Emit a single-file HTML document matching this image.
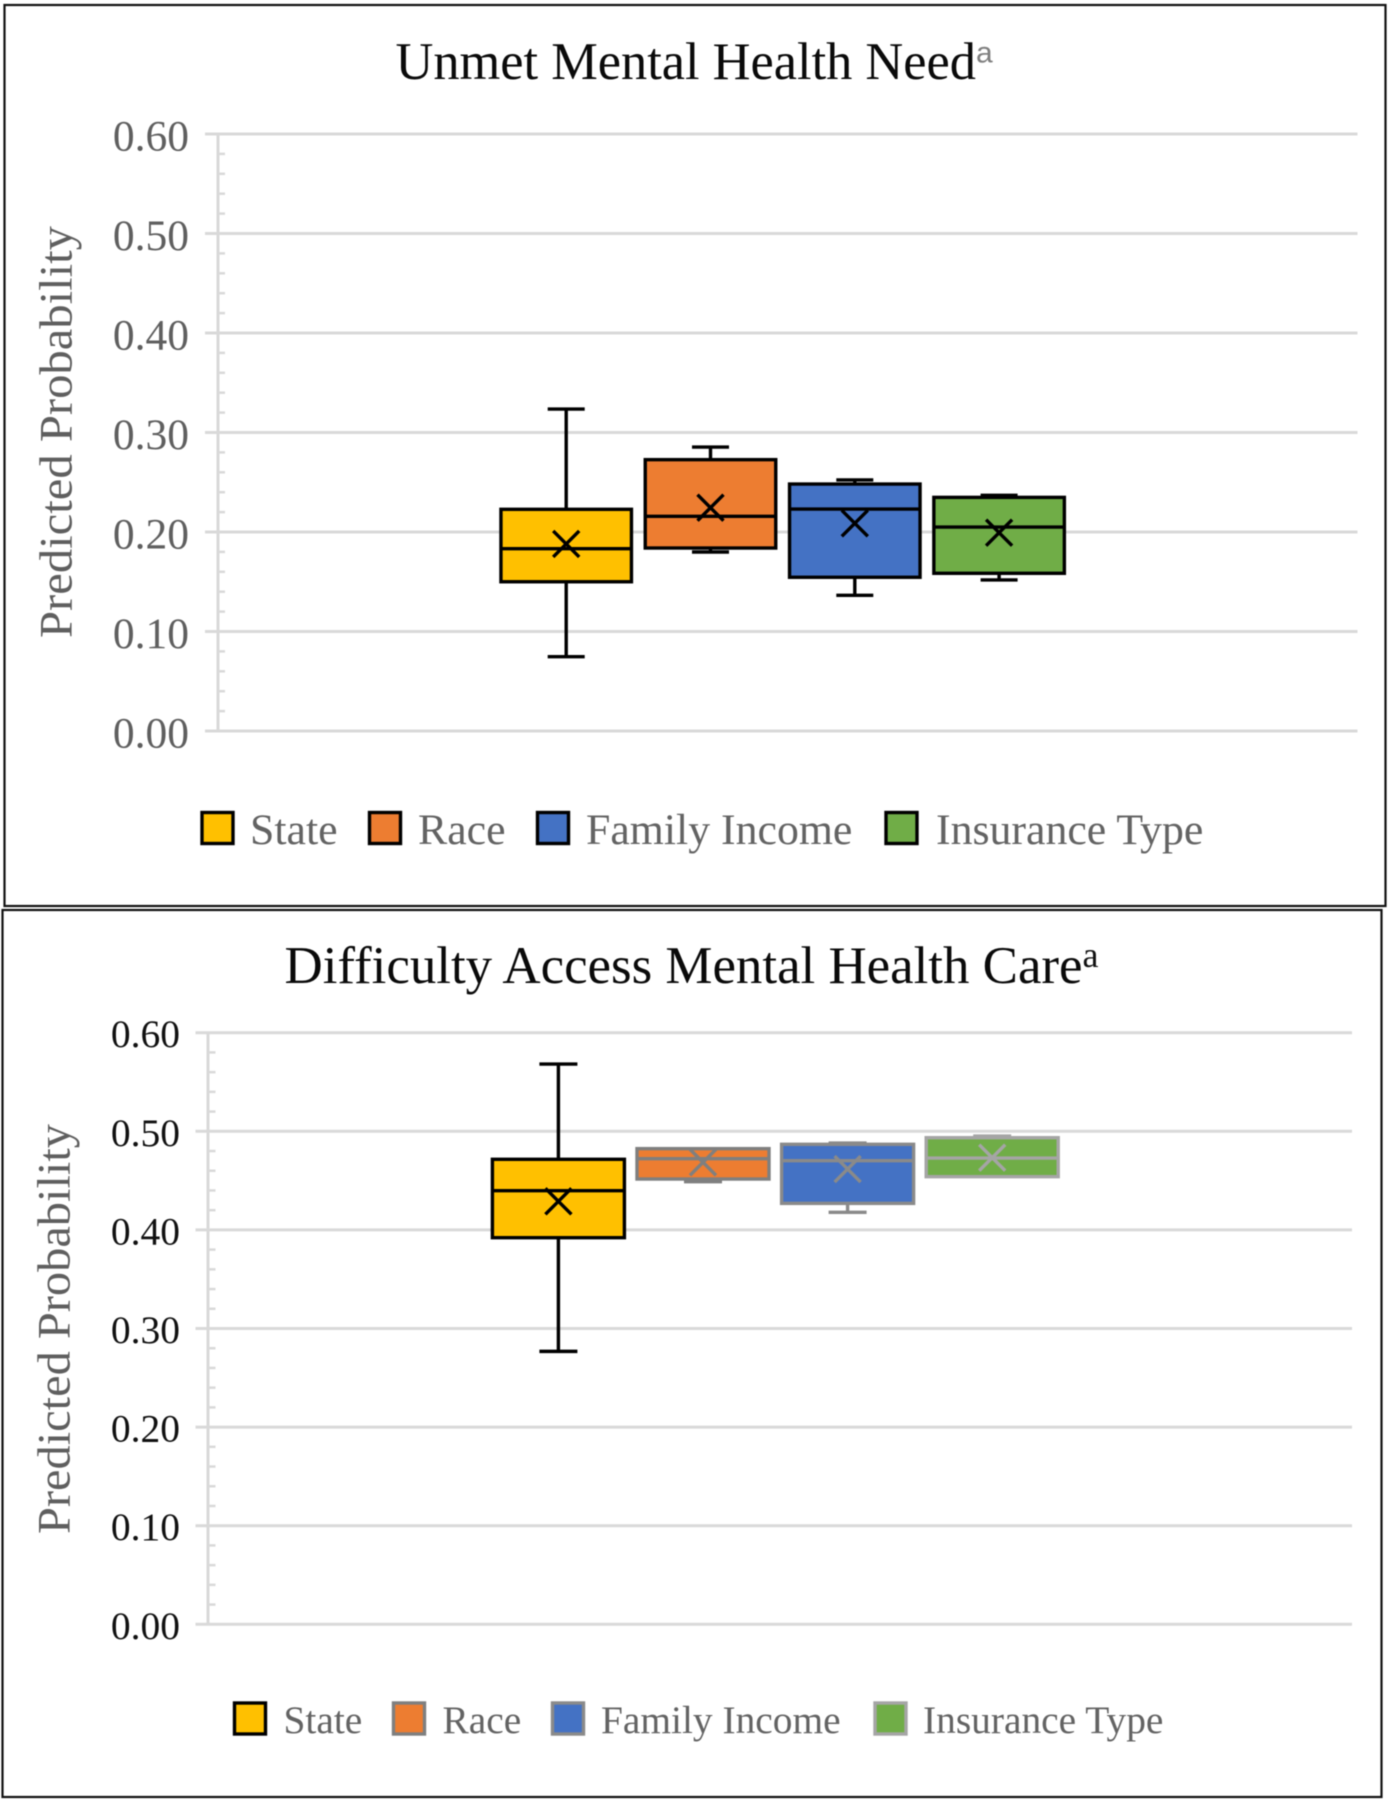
<!DOCTYPE html>
<html lang="en">
<head>
<meta charset="utf-8">
<title>Predicted probability box plots</title>
<style>
html,body{margin:0;padding:0;background:#fff;width:1391px;height:1800px;overflow:hidden}
svg{display:block;filter:blur(.6px)}
text{font-family:"Liberation Serif",serif}
</style>
</head>
<body>
<svg id="figure" width="1391" height="1800" viewBox="0 0 1391 1800" xmlns="http://www.w3.org/2000/svg">
  <rect width="1391" height="1800" fill="#fff"/>
  <g id="chart-a">
    <rect x="4.5" y="5" width="1381" height="901" fill="#fff" stroke="#111" stroke-width="2.2"/>
    <text x="395.5" y="79" font-size="52.4" fill="#0a0a0a">Unmet Mental Health Need<tspan font-size="30" dy="-16.3" fill="#7f7f7f" style="font-family:'Liberation Sans',sans-serif">a</tspan></text>
    <text transform="translate(71.5,638) rotate(-90)" font-size="47" fill="#5f5f5f" textLength="412" lengthAdjust="spacingAndGlyphs">Predicted Probability</text>
  </g>
  <g id="chart-b">
    <rect x="2.5" y="910" width="1379" height="887" fill="#fff" stroke="#111" stroke-width="2.2"/>
    <text x="284.5" y="983" font-size="52.9" fill="#0a0a0a">Difficulty Access Mental Health Care<tspan font-size="36" dy="-16" fill="#111">a</tspan></text>
    <text transform="translate(69.5,1534) rotate(-90)" font-size="47" fill="#5f5f5f" textLength="410" lengthAdjust="spacingAndGlyphs">Predicted Probability</text>
  </g>
</svg>
<script>
// Shared categories and ticks
const categories = ['State', 'Race', 'Family Income', 'Insurance Type'];
const tickValues = [0, 0.1, 0.2, 0.3, 0.4, 0.5, 0.6];
const tickLabels = ['0.00', '0.10', '0.20', '0.30', '0.40', '0.50', '0.60'];

// Unmet Mental Health Need
const needWhiskerHigh = [0.3236, 0.2854, 0.2523, 0.2368];
const needQ3          = [0.2228, 0.2727, 0.2482, 0.2348];
const needMedian      = [0.1832, 0.2158, 0.2231, 0.2050];
const needQ1          = [0.1500, 0.1839, 0.1545, 0.1585];
const needWhiskerLow  = [0.0747, 0.1799, 0.1364, 0.1518];
const needMean        = [0.1880, 0.2244, 0.2087, 0.1993];

// Difficulty Access Mental Health Care
const accessWhiskerHigh = [0.5682, 0.4824, 0.4881, 0.4952];
const accessQ3          = [0.4716, 0.4824, 0.4868, 0.4935];
const accessMedian      = [0.4398, 0.4722, 0.4702, 0.4729];
const accessQ1          = [0.3921, 0.4516, 0.4269, 0.4540];
const accessWhiskerLow  = [0.2768, 0.4489, 0.4178, 0.4545];
const accessMean        = [0.4290, 0.4685, 0.4617, 0.4732];

const fills = ['#FFC000', '#ED7D31', '#4472C4', '#70AD47'];
const NS = 'http://www.w3.org/2000/svg';

function make(parent, tag, attrs) {
  const el = document.createElementNS(NS, tag);
  for (const k in attrs) el.setAttribute(k, attrs[k]);
  parent.appendChild(el);
  return el;
}

function slug(s) {
  return s.toLowerCase().replace(/\s+/g, '-');
}

function drawChart(root, cfg, d) {
  const yScale = v => cfg.y0 - cfg.yPerUnit * v;
  const xScale = i => cfg.x0 + cfg.step * i;
  const grid = '#d9d9d9';

  const axisGroup = make(root, 'g', {});
  
  

  // minor ticks between majors
  for (let t = 0; t < tickValues.length - 1; t++) {
    for (let m = 1; m < 5; m++) {
      const v = tickValues[t] + (tickValues[t + 1] - tickValues[t]) * m / 5;
      const minor = make(axisGroup, 'line', {x1: cfg.axisX, x2: cfg.minorX, y1: yScale(v), y2: yScale(v), stroke: grid, 'stroke-width': 2.5});
      
      
    }
  }

  const axisLine = make(axisGroup, 'line', {x1: cfg.axisX, x2: cfg.axisX, y1: yScale(tickValues[tickValues.length - 1]), y2: yScale(0), stroke: grid, 'stroke-width': 3});
  
  

  tickValues.forEach((v, i) => {
    const gridLine = make(axisGroup, 'line', {x1: cfg.gridLeft, x2: cfg.gridRight, y1: yScale(v), y2: yScale(v), stroke: grid, 'stroke-width': 3});
    
    

    const label = make(axisGroup, 'text', {x: cfg.labelX, y: yScale(v) + cfg.labelDy, 'text-anchor': 'end', 'font-size': cfg.labelSize, fill: cfg.labelFill});
    label.textContent = tickLabels[i];
    
    
  });

  categories.forEach((cat, i) => {
    const cx = xScale(i);
    const stroke = cfg.strokes[i];
    const series = make(root, 'g', {fill: 'none', stroke: stroke, 'stroke-width': 3.4});
    
    

    const whisker = make(series, 'line', {x1: cx, x2: cx, y1: yScale(d.high[i]), y2: yScale(d.low[i])});
    
    

    const capTop = make(series, 'line', {x1: cx - cfg.cap / 2, x2: cx + cfg.cap / 2, y1: yScale(d.high[i]), y2: yScale(d.high[i])});
    
    

    const capLow = make(series, 'line', {x1: cx - cfg.cap / 2, x2: cx + cfg.cap / 2, y1: yScale(d.low[i]), y2: yScale(d.low[i])});
    
    

    const box = make(series, 'rect', {x: cx - cfg.boxW / 2, width: cfg.boxW, y: yScale(d.q3[i]), height: yScale(d.q1[i]) - yScale(d.q3[i]), fill: fills[i]});
    
    

    const med = make(series, 'line', {x1: cx - cfg.boxW / 2, x2: cx + cfg.boxW / 2, y1: yScale(d.median[i]), y2: yScale(d.median[i])});
    
    

    const my = yScale(d.mean[i]);
    const meanMark = make(series, 'path', {d: 'M' + (cx - 13) + ' ' + (my - 13) + 'L' + (cx + 13) + ' ' + (my + 13) + 'M' + (cx + 13) + ' ' + (my - 13) + 'L' + (cx - 13) + ' ' + (my + 13)});
    
    
  });

  const legend = make(root, 'g', {});
  
  
  categories.forEach((cat, i) => {
    const entry = make(legend, 'g', {});
    
    

    const swatch = make(entry, 'rect', {x: cfg.swatchX[i], y: cfg.swatchY, width: 31, height: 31, fill: fills[i], stroke: cfg.strokes[i], 'stroke-width': 3.4});
    
    

    const txt = make(entry, 'text', {x: cfg.legendTextX[i], y: cfg.legendBase, 'font-size': cfg.legendSize, fill: '#636363'});
    txt.textContent = cat;
    
    
  });
}

drawChart(document.getElementById('chart-a'), {
  y0: 731, yPerUnit: 995, x0: 566.2, step: 144.3, boxW: 130.5, cap: 37,
  axisX: 218, minorX: 225, gridLeft: 205, gridRight: 1357.5,
  labelX: 189, labelDy: 16.5, labelSize: 43.5, labelFill: '#5f5f5f',
  strokes: ['#000', '#000', '#000', '#000'],
  swatchX: [202, 369.5, 537.5, 886], swatchY: 812.5,
  legendTextX: [250, 418, 586, 936], legendBase: 844, legendSize: 43.8
}, {high: needWhiskerHigh, q3: needQ3, median: needMedian, q1: needQ1, low: needWhiskerLow, mean: needMean});

drawChart(document.getElementById('chart-b'), {
  y0: 1624.3, yPerUnit: 986, x0: 558.4, step: 144.6, boxW: 132, cap: 38,
  axisX: 208, minorX: 215.5, gridLeft: 195.5, gridRight: 1352,
  labelX: 180, labelDy: 14.5, labelSize: 39.5, labelFill: '#111',
  strokes: ['#000', '#7f7f7f', '#8a8a8a', '#a5a5a5'],
  swatchX: [234.5, 393.5, 552.5, 875], swatchY: 1703,
  legendTextX: [283.5, 442.5, 601, 923], legendBase: 1733, legendSize: 39.4
}, {high: accessWhiskerHigh, q3: accessQ3, median: accessMedian, q1: accessQ1, low: accessWhiskerLow, mean: accessMean});
</script>
</body>
</html>
